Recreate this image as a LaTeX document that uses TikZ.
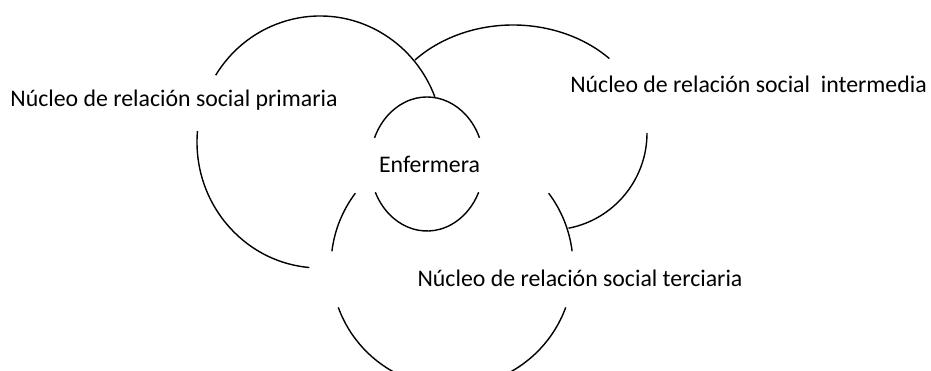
\documentclass[tikz,border=0pt]{standalone}
\usepackage{fontspec}
\setmainfont{Carlito}
\usetikzlibrary{positioning}

\begin{document}
\begin{tikzpicture}[x=1pt, y=1pt]
	\useasboundingbox (0,0) rectangle (931,371);
	\clip (0,0) rectangle (931,371);
	\begin{scope}
		\tikzstyle{every node}=[inner sep=0pt, anchor=base, font=\fontsize{23.8}{28}\selectfont]
		\tikzstyle{rim}=[line width=1.4pt]

		% centres of the rings
		\coordinate (cprim) at (320, 229);
		\coordinate (cinter) at (513, 236);
		\coordinate (cinter2) at (550, 238);
		\coordinate (cenf) at (427, 207);
		\coordinate (cter) at (452, 105);

		\node (prim)  at (174, 264)   {Núcleo de relación social primaria};
		\node (inter) at (748.5, 278) {Núcleo de relación social\ \ intermedia};
		\node (enf)   at (429.5, 198) {Enfermera};
		\node (ter)   at (580, 84)    {Núcleo de relación social terciaria};

		\draw [rim] ([shift={(148:123 and 126)}]cprim) arc[start angle=148, end angle=21, x radius=123, y radius=126];
		\draw [rim] ([shift={(175:123 and 126)}]cprim) arc[start angle=175, end angle=265, x radius=123, y radius=126];

		\draw [rim] ([shift={(137:134 and 110)}]cinter) arc[start angle=137, end angle=44, x radius=134, y radius=110];
		\draw [rim] ([shift={(0:97)}]cinter2) arc[start angle=0, end angle=-79, radius=97];

		\draw [rim] ([shift={(23:57 and 67)}]cenf) arc[start angle=23, end angle=157, x radius=57, y radius=67];
		\draw [rim] ([shift={(205:57 and 67)}]cenf) arc[start angle=205, end angle=335, x radius=57, y radius=67];

		\draw [rim] ([shift={(143:121)}]cter) arc[start angle=143, end angle=173, radius=121];
		\draw [rim] ([shift={(200:121)}]cter) arc[start angle=200, end angle=340, radius=121];
		\draw [rim] ([shift={(37:121)}]cter) arc[start angle=37, end angle=7, radius=121];
	\end{scope}
\end{tikzpicture}
\end{document}
